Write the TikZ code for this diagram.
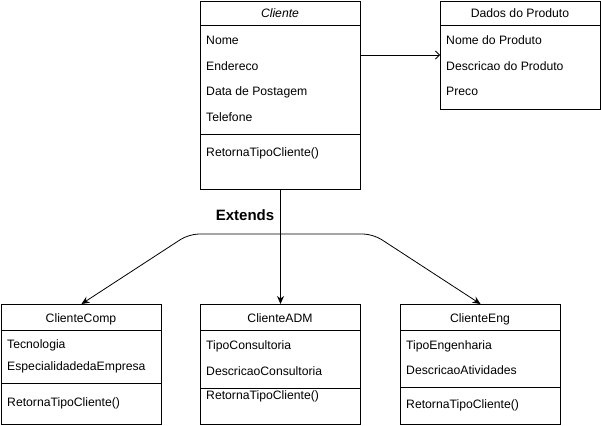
\documentclass[tikz,border=0pt]{standalone}
\usepackage{fontspec}
\setmainfont{Liberation Sans}
\usetikzlibrary{arrows.meta}

\begin{document}
\begin{tikzpicture}[x=1pt,y=-1pt]
\tikzset{classbox/.style = {draw, line width=1pt, minimum width=160pt, anchor=north west, inner sep=0}}
\tikzset{rule/.style = {line width=1pt}}
\tikzset{attr/.style = {anchor=west, inner sep=0, text height=11pt, text depth=2pt, font=\fontsize{12.2}{14}\selectfont}}
\tikzset{title/.style = {inner sep=0, text height=11pt, text depth=2pt, font=\fontsize{12.2}{14}\selectfont}}
\tikzset{edge/.style = {{Stealth[length=8pt,width=7pt]}-{Stealth[length=8pt,width=7pt]}, line width=0.8pt, rounded corners=10pt}}
\tikzset{down/.style = {-{Stealth[length=8pt,width=7pt]}, line width=0.8pt}}
\tikzset{link/.style = {-{Straight Barb[length=4pt,width=8pt]}, line width=0.8pt}}
\useasboundingbox (0,0) rectangle (601,425);
\node[classbox, minimum height=188pt](cliente) at (200,1) {};
\draw[rule] (200,26) -- (360,26);
\draw[rule] (200,134) -- (360,134);
\node[title](clienteT) at (280,13) {\itshape Cliente};
\node[attr](c1) at (206,40) {Nome};
\node[attr](c2) at (206,66) {Endereco};
\node[attr](c3) at (206,91) {Data de Postagem};
\node[attr](c4) at (206,117) {Telefone};
\node[attr](c5) at (206,152) {RetornaTipoCliente()};
\node[classbox, minimum height=108pt](dados) at (440,1) {};
\draw[rule] (440,26) -- (600,26);
\node[title](dadosT) at (520,13) {Dados do Produto};
\node[attr](d1) at (446,40) {Nome do Produto};
\node[attr](d2) at (446,66) {Descricao do Produto};
\node[attr](d3) at (446,91) {Preco};
\node[classbox, minimum height=120pt](comp) at (1,304) {};
\draw[rule] (1,330) -- (161,330);
\draw[rule] (1,383) -- (161,383);
\node[title](compT) at (81,318) {ClienteComp};
\node[attr](p1) at (7,344) {Tecnologia};
\node[attr](p2) at (7,366) {EspecialidadedaEmpresa};
\node[attr](p3) at (7,402) {RetornaTipoCliente()};
\node[classbox, minimum height=120pt](adm) at (200,304) {};
\draw[rule] (200,330) -- (360,330);
\draw[rule] (200,388) -- (360,388);
\node[title](admT) at (280,318) {ClienteADM};
\node[attr](a1) at (206,345) {TipoConsultoria};
\node[attr](a2) at (206,371) {DescricaoConsultoria};
\node[attr](a3) at (206,395) {RetornaTipoCliente()};
\node[classbox, minimum height=120pt](eng) at (400,304) {};
\draw[rule] (400,330) -- (560,330);
\draw[rule] (400,387) -- (560,387);
\node[title](engT) at (480,318) {ClienteEng};
\node[attr](e1) at (406,345) {TipoEngenharia};
\node[attr](e2) at (406,370) {DescricaoAtividades};
\node[attr](e3) at (406,404) {RetornaTipoCliente()};
\node[inner sep=0, font=\bfseries\fontsize{15}{18}\selectfont](ext) at (245,215) {Extends};
\coordinate (jl) at (189,234);
\coordinate (jr) at (373,234);
\coordinate (lk) at (400,55);
\draw[link] (cliente.east |- lk) -- (dados.west |- lk);
\draw[down] (cliente.south) -- (adm.north);
\draw[edge] (comp.north) -- (jl) -- (jr) -- (eng.north);
\end{tikzpicture}
\end{document}
